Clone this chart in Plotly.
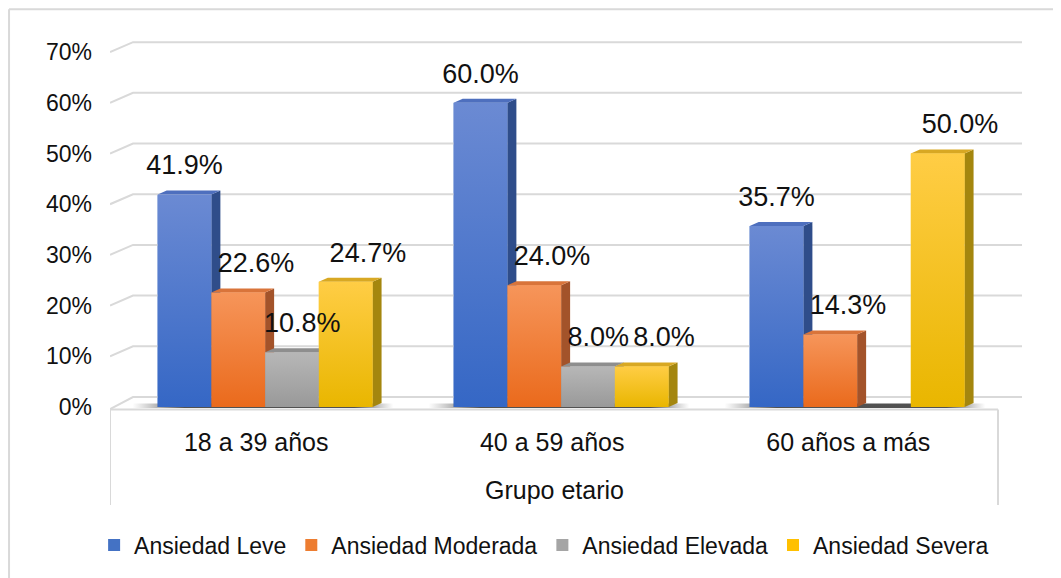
"""Ansiedad por grupo etario: barras agrupadas con efecto 3D (Plotly)."""

import plotly.graph_objects as go

# ---- datos ----
grupos = ["18 a 39 años", "40 a 59 años", "60 años a más"]
series = ["Ansiedad Leve", "Ansiedad Moderada", "Ansiedad Elevada", "Ansiedad Severa"]
leve = [41.9, 60.0, 35.7]
moderada = [22.6, 24.0, 14.3]
elevada = [10.8, 8.0, 0.0]
severa = [24.7, 8.0, 50.0]
valores = [leve, moderada, elevada, severa]
ticks_y = [0, 10, 20, 30, 40, 50, 60, 70]

# ---- estilo ----
# (medio, arriba, abajo, lateral, tapa)
colores = [
    ("#4472c4", "#6b8ad3", "#3567c5", "#2f4d8a", "#4e6fbe"),
    ("#ed7d31", "#f6955a", "#ea6a1c", "#a3532a", "#d9743a"),
    ("#a5a5a5", "#b7b7b7", "#999999", "#7f7f7f", "#8e8e8e"),
    ("#ffc000", "#ffcd45", "#e9b600", "#a4860e", "#d8a823"),
]
desplaz_etiqueta = [0.0, 0.06, 0.035, 0.075]  # corrimiento horizontal de las etiquetas
FONT = "Liberation Sans, Arial, sans-serif"
GRID = "#d9d9d9"

GROUP_W = 0.726
BW = GROUP_W / 4          # ancho de barra (unidades de categoría)
DX, DY = 0.0304, 0.79     # profundidad de la barra
GX, GY = 0.0777, 1.97     # desplazamiento de la pared del fondo
X0, X1 = -0.524, 2.557    # rango del eje x
Y0, Y1 = -19.33, 72.39    # rango del eje y
XF = 2.476                # borde derecho del piso frontal

fig = go.Figure()

# barras (capa base, dan la leyenda)
for i, (nombre, vals) in enumerate(zip(series, valores)):
    fig.add_trace(go.Bar(
        x=list(range(len(grupos))), y=vals, name=nombre,
        width=BW, offset=-GROUP_W / 2 + i * BW,
        marker=dict(color=colores[i][0], line_width=0),
        hoverinfo="skip",
    ))

# líneas de la cuadrícula en la pared del fondo
gx, gy = [], []
for v in ticks_y:
    yv = -0.4 if v == 0 else v
    gx += [X0, X0 + GX, X1, None]
    gy += [yv, v + GY, v + GY, None]
fig.add_trace(go.Scatter(x=gx, y=gy, mode="lines", line=dict(color=GRID, width=2),
                         showlegend=False, hoverinfo="skip"))

# sombras sobre el piso
for g in range(len(grupos)):
    izq = g - GROUP_W / 2
    der = g + GROUP_W / 2
    fig.add_trace(go.Scatter(
        x=[izq - 0.085, der + 0.07, der + 0.07, izq - 0.085, izq - 0.085],
        y=[-0.2, -0.2, 0.7, 0.7, -0.2],
        fill="toself", mode="none",
        fillgradient=dict(type="horizontal", colorscale=[
            [0, "rgba(90,90,90,0)"], [0.2, "rgba(50,50,50,0.85)"],
            [0.85, "rgba(50,50,50,0.85)"], [1, "rgba(90,90,90,0)"]]),
        showlegend=False, hoverinfo="skip"))

# caras de las barras: lateral, tapa, frente
for i, vals in enumerate(valores):
    medio, arriba, abajo, lateral, tapa = colores[i]
    for g, v in enumerate(vals):
        if v <= 0:
            continue
        xl = g - GROUP_W / 2 + i * BW
        xr = xl + BW
        fig.add_trace(go.Scatter(
            x=[xr, xr + DX, xr + DX, xr, xr], y=[0, DY, v + DY, v, 0],
            fill="toself", mode="none", fillcolor=lateral,
            showlegend=False, hoverinfo="skip"))
        fig.add_trace(go.Scatter(
            x=[xl, xl + DX, xr + DX, xr, xl], y=[v, v + DY, v + DY, v, v],
            fill="toself", mode="none", fillcolor=tapa,
            showlegend=False, hoverinfo="skip"))
        fig.add_trace(go.Scatter(
            x=[xl, xr, xr, xl, xl], y=[0, 0, v, v, 0],
            fill="toself", mode="none",
            fillgradient=dict(type="vertical", colorscale=[[0, abajo], [1, arriba]]),
            showlegend=False, hoverinfo="skip"))

# etiquetas de datos
lx, ly, lt = [], [], []
for i, vals in enumerate(valores):
    for g, v in enumerate(vals):
        if v <= 0:
            continue
        lx.append(g - GROUP_W / 2 + (i + 0.5) * BW + desplaz_etiqueta[i])
        ly.append(v + 5.3)
        lt.append(f"{v:.1f}%")
fig.add_trace(go.Scatter(x=lx, y=ly, text=lt, mode="text", textposition="middle center",
                         textfont=dict(family=FONT, size=27, color="#111"),
                         showlegend=False, hoverinfo="skip"))

# etiquetas de categoría
fig.add_trace(go.Scatter(x=[g - 0.03 for g in range(len(grupos))], y=[-7.4] * len(grupos),
                         text=grupos, mode="text", textposition="middle center",
                         textfont=dict(family=FONT, size=25, color="#111"),
                         showlegend=False, hoverinfo="skip"))

# marco del piso y del gráfico
shapes = [
    dict(type="line", xref="x", yref="y", x0=X0, x1=XF, y0=-0.5, y1=-0.5,
         line=dict(color=GRID, width=2)),
    dict(type="line", xref="x", yref="y", x0=X0, x1=X0, y0=-0.5, y1=Y0,
         line=dict(color=GRID, width=2)),
    dict(type="line", xref="x", yref="y", x0=XF, x1=XF, y0=-0.5, y1=Y0,
         line=dict(color=GRID, width=2)),
    dict(type="line", xref="paper", yref="paper", x0=-0.1107, x1=-0.1107, y0=1.066, y1=-0.17,
         line=dict(color=GRID, width=2)),
    dict(type="line", xref="paper", yref="paper", x0=-0.1107, x1=1.05, y0=1.066, y1=1.066,
         line=dict(color=GRID, width=2)),
]

# la página añade 8 px de margen al cuerpo: la figura se reduce en consecuencia
fig.update_layout(
    width=1053, height=570,
    margin=dict(l=102, r=39, t=32, b=73),
    paper_bgcolor="white", plot_bgcolor="white",
    barmode="overlay",
    showlegend=True,
    legend=dict(orientation="h", x=0.476, xanchor="center", y=-0.086, yanchor="middle",
                font=dict(family=FONT, size=23, color="#111"), traceorder="normal"),
    xaxis=dict(range=[X0, X1], visible=False, fixedrange=True),
    yaxis=dict(range=[Y0, Y1], tickvals=ticks_y, ticktext=[f"{v}%" for v in ticks_y],
               showgrid=False, zeroline=False, showline=False, ticks="",
               ticklabelstandoff=17, tickfont=dict(family=FONT, size=23, color="#111"),
               fixedrange=True),
    annotations=[dict(text="Grupo etario", xref="x", yref="y", x=0.979, y=-16.4,
                      showarrow=False, font=dict(family=FONT, size=25, color="#111"))],
    shapes=shapes,
    font=dict(family=FONT),
)

fig.write_html("out.html")
